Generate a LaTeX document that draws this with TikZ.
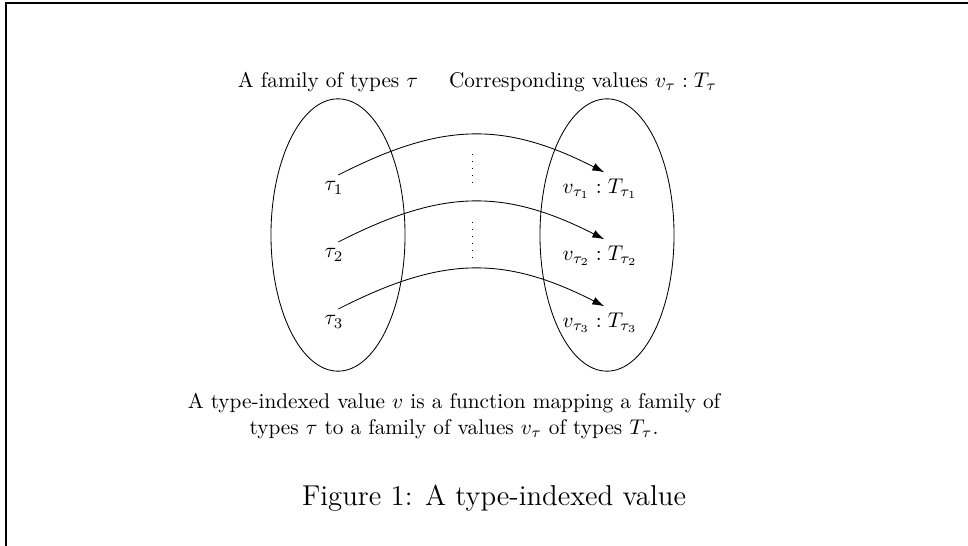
\documentclass[tikz,border=0pt]{standalone}
\usepackage{amsmath}
\usepackage{tikz}
\usetikzlibrary{shapes.geometric, arrows.meta, positioning}

\begin{document}
\begin{tikzpicture}[
    x=0.47pt, y=-0.47pt,
    family/.style={draw, ellipse, minimum width=63pt, minimum height=128pt},
    elem/.style={inner sep=2pt},
    arrow/.style={-{Latex[length=5.6pt,width=3.8pt]}},
    dotline/.style={dash pattern=on 0.4pt off 2.9pt},
    frame/.style={line width=1pt}
]
\useasboundingbox (0,0) rectangle (968,546);

% Frame
\draw[frame] (6,546) -- (6,3) -- (968,3);

% Headings
\node (famlabel) at (328,82) {A family of types $\tau$};
\node (vallabel) at (583,82) {Corresponding values $v_\tau : T_\tau$};

% The two families
\node[family] (types) at (338,235) {};
\node[family] (values) at (607,235) {};

% Elements
\node[elem] (t1) at (334,188) {$\tau_1$};
\node[elem] (t2) at (334,255) {$\tau_2$};
\node[elem] (t3) at (334,322) {$\tau_3$};
\node[elem] (v1) at (600,189) {$v_{\tau_1} : T_{\tau_1}$};
\node[elem] (v2) at (600,256) {$v_{\tau_2} : T_{\tau_2}$};
\node[elem] (v3) at (600,323) {$v_{\tau_3} : T_{\tau_3}$};

% Mappings
\draw[arrow] ([xshift=2pt,yshift=1pt]t1.north) to[out=27,in=153,looseness=1.1] ([xshift=2pt,yshift=1pt]v1.north);
\draw[arrow] ([xshift=2pt,yshift=1pt]t2.north) to[out=27,in=153,looseness=1.1] ([xshift=2pt,yshift=1pt]v2.north);
\draw[arrow] ([xshift=2pt,yshift=1pt]t3.north) to[out=27,in=153,looseness=1.1] ([xshift=2pt,yshift=1pt]v3.north);

% Dots
\draw[dotline] (472,154) -- (472,186);
\draw[dotline] (472,222) -- (472,261);

% Description and caption
\node[align=center] (desc) at (454,416) {A type-indexed value $v$ is a function mapping a family of\\
    types $\tau$ to a family of values $v_\tau$ of types $T_\tau$.};
\node (caption) at (494,498) {\fontsize{13.5}{16}\selectfont Figure 1: A type-indexed value};

\end{tikzpicture}
\end{document}
